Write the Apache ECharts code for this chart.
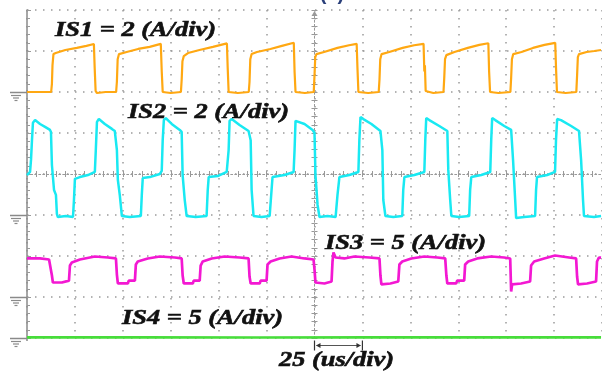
<!DOCTYPE html>
<html>
<head>
<meta charset="utf-8">
<script src="https://cdn.jsdelivr.net/npm/echarts@6/dist/echarts.min.js"></script>
<style>
html,body{margin:0;padding:0;background:#fff;}
#chart{width:602px;height:374px;}
</style>
</head>
<body>
<div id="chart"></div>
<script>
// ---- Channel settings ----
const channelNames = ['IS1', 'IS2', 'IS3', 'IS4'];
const ampsPerDiv = [2, 2, 5, 5];
const groundDiv = [6, 3, 1, 0];
const channelLabels = ['IS1 = 2 (A/div)', 'IS2 = 2 (A/div)', 'IS3 = 5 (A/div)', 'IS4 = 5 (A/div)'];
const timeLabel = '25 (us/div)';
const usPerDiv = 25;
const arrowSpan = [150, 175];

// ---- Waveforms: [time (us), current (A)] ----
const is1Points = [
 [0,0],[12.6,0],[13.0,0.4],[13.3,1.3],[13.8,1.85],[15,1.9],[20,2.05],[26,2.15],[31,2.25],[34.9,2.34],[35.3,1.2],[35.8,0.05],[36.5,-0.05],[41,0],[46.5,0],
 [46.9,0.5],[47.3,1.6],[48,1.85],[52,1.95],[58,2.1],[64,2.2],[69.8,2.35],[70.3,1.0],[70.8,0.0],[75,-0.05],[80.3,0],
 [80.7,0.6],[81.1,1.5],[81.8,1.75],[84,1.9],[90,2.05],[97,2.2],[104.3,2.37],[104.7,1.2],[105.2,0],[110,-0.05],[115.7,0],
 [116.1,0.5],[116.5,1.6],[117.2,1.85],[120,1.95],[127,2.1],[133,2.25],[139.2,2.4],[139.6,1.0],[140.1,0],[145,-0.05],[149.6,0],
 [150.0,0.8],[150.4,1.7],[151,1.85],[155,1.95],[162,2.15],[168,2.28],[172.0,2.35],[172.4,1.2],[172.9,0],[178,-0.05],[183.5,0],
 [183.9,0.6],[184.3,1.6],[185,1.85],[189,1.95],[196,2.15],[202,2.28],[206.9,2.35],[207.3,1.0],[207.6,1.3],[208,0.05],[212,-0.05],[217.3,0],
 [217.7,0.7],[218.1,1.6],[218.8,1.8],[223,1.95],[230,2.15],[236,2.3],[240.7,2.38],[241.1,1.0],[241.6,0],[246,-0.05],[252.2,0],
 [252.6,0.7],[253,1.6],[253.7,1.85],[258,1.95],[264,2.15],[270,2.3],[275.6,2.4],[276.0,1.2],[276.5,0],[281,-0.05],[286.6,0],
 [287.0,0.8],[287.4,1.7],[288,1.85],[292,1.95],[296,2.0],[299.5,2.05]
];

const is2Points = [
 [0,1.95],[1.6,2.1],[2.1,2.7],[2.6,3.65],[3.1,4.5],[4.2,4.63],[6.8,4.44],[9.4,4.3],[12.0,4.15],[12.5,4.05],[13.0,2.44],[14.1,1.22],[15.1,0.98],[15.6,0.05],[16.1,-0.1],[20.3,-0.05],[24.0,-0.1],[24.5,0.73],[25.0,1.76],[27.6,1.85],[31.8,1.95],[35.4,2.1],
 [35.9,3.17],[36.5,4.54],[37.5,4.68],[40.6,4.44],[44.3,4.2],[45.8,4.1],[46.9,3.17],[47.4,1.71],[48.4,0.98],[49.5,-0.05],[53.6,-0.1],[59.4,-0.05],[59.9,0.98],[60.4,1.8],[64.1,1.85],[69.3,2.0],[70.3,2.15],
 [70.8,3.65],[71.4,4.63],[72.4,4.73],[75.5,4.44],[79.7,4.15],[80.7,4.05],[81.2,1.95],[82.3,0.73],[83.3,-0.05],[88.0,-0.1],[93.7,-0.05],[94.3,1.22],[94.8,1.85],[99.5,1.9],[104.2,2.1],
 [105.2,3.17],[105.7,4.59],[106.8,4.68],[110.9,4.39],[115.6,4.1],[116.7,3.65],[117.2,1.22],[118.2,-0.05],[122.4,-0.1],[126.6,-0.05],[127.6,1.22],[128.1,1.85],[134.4,1.95],[139.1,2.1],
 [139.6,3.17],[140.1,4.59],[141.1,4.68],[144.8,4.44],[149.0,4.15],[150.0,4.0],[150.5,1.95],[151.6,0.49],[152.6,-0.1],[156.8,-0.05],[161.0,-0.1],[162.0,0.98],[163.0,1.85],[168.2,1.95],[172.9,2.1],
 [173.4,3.65],[174.0,4.78],[175.5,4.68],[179.7,4.44],[184.4,4.1],[185.4,3.17],[185.9,0.73],[187.0,-0.05],[191.1,-0.1],[195.8,-0.05],[196.3,1.22],[196.9,1.85],[202.1,1.95],[207.3,2.1],
 [207.8,3.65],[208.3,4.73],[209.9,4.63],[215.1,4.34],[219.3,4.1],[219.8,2.2],[220.8,0.73],[221.4,-0.05],[225.5,-0.1],[230.7,-0.05],[231.2,1.22],[231.8,1.85],[237.0,1.95],[241.7,2.1],
 [242.2,3.65],[242.7,4.73],[244.3,4.63],[249.0,4.34],[252.6,4.15],[253.6,2.68],[254.7,0.73],[255.2,-0.15],[259.4,-0.1],[265.1,-0.05],[265.6,1.22],[266.1,1.85],[271.4,1.95],[275.5,2.1],
 [276.0,3.65],[276.6,4.68],[278.6,4.63],[283.9,4.34],[288.0,4.1],[289.1,2.68],[290.1,0.73],[290.6,-0.05],[295.8,-0.1],[299.5,-0.05]
];

const is3Points = [
 [0,4.7],[6.8,4.7],[11.5,4.57],[12.5,4.33],[13.0,2.62],[13.5,1.77],[18.2,1.77],[18.8,2.0],[21.9,2.0],[22.4,3.84],[23.4,4.21],[27.6,4.57],[35.4,4.94],[42.2,4.82],[46.4,4.7],
 [46.9,2.74],[47.4,1.65],[52.6,1.65],[53.1,2.0],[56.3,2.0],[56.8,3.97],[57.8,4.33],[63.0,4.7],[69.3,4.94],[77.1,4.82],[80.7,4.7],
 [81.2,2.62],[81.8,1.65],[86.5,1.65],[87.0,2.0],[90.1,2.0],[90.6,3.84],[91.7,4.33],[96.4,4.7],[103.1,4.94],[110.9,4.82],[115.6,4.7],
 [116.1,2.5],[116.7,1.65],[121.4,1.65],[121.9,2.0],[125.0,2.0],[125.5,3.97],[127.1,4.33],[131.8,4.7],[138.0,4.94],[144.8,4.7],[149.5,4.57],
 [150.0,3.36],[150.5,1.77],[155.2,1.65],[155.7,1.89],[158.9,1.89],[159.4,4.33],[159.9,5.43],[161.0,4.82],[165.6,4.7],[170.8,4.94],[178.6,4.82],[183.9,4.7],
 [184.4,2.62],[184.9,1.53],[189.6,1.65],[190.1,1.89],[193.7,1.89],[194.3,3.97],[195.8,4.33],[200.5,4.7],[207.3,4.94],[214.1,4.82],[218.2,4.7],
 [218.8,2.62],[219.3,1.65],[223.9,1.65],[224.5,2.0],[228.1,2.0],[228.6,3.97],[230.2,4.33],[234.9,4.7],[242.2,4.94],[248.9,4.82],[252.1,4.7],
 [252.6,0.67],[253.1,1.53],[257.8,1.65],[258.3,1.89],[262.5,1.89],[263.0,3.84],[264.6,4.33],[269.8,4.7],[275.5,5.06],[282.8,4.82],[286.5,4.7],
 [287.0,2.5],[287.5,1.53],[292.2,1.65],[292.7,1.89],[296.9,1.89],[297.4,4.33],[298.4,4.82],[299.5,4.8]
];

const is4Points = [
 [0,0.08],[60,0.08],[120,0.07],[180,0.08],[240,0.08],[299.5,0.08]
];

const channelPoints = [is1Points, is2Points, is3Points, is4Points];
const channelColors = ['#FFA812', '#19E9F2', '#F318D2', '#47DD3A'];
const channelWidths = [2.2, 2.5, 2.7, 2.6];

const chart = echarts.init(document.getElementById('chart'), null, {renderer: 'canvas'});

const gridBox = {left: 27, top: 10, right: -1, bottom: 36};
const dot = [1.5, 6.5];

const series = channelPoints.map((pts, i) => ({
  name: channelNames[i],
  type: 'line',
  xAxisIndex: 0, yAxisIndex: 0,
  showSymbol: false,
  animation: false,
  clip: true,
  lineStyle: {color: channelColors[i], width: channelWidths[i]},
  data: pts.map(([t, a]) => [t, groundDiv[i] + a / ampsPerDiv[i]]),
  z: 10 - i
}));

const crossAxis = {
  axisLine: {onZero: true, lineStyle: {color: '#999', width: 1, type: [1.5, 2.5]}},
  axisTick: {show: true, inside: true, length: 3, lineStyle: {color: '#999'}},
  minorTick: {show: true, splitNumber: 5, length: 3, lineStyle: {color: '#999'}},
  axisLabel: {show: false},
  splitLine: {show: false}
};

chart.setOption({
  animation: false,
  backgroundColor: '#fff',
  grid: [Object.assign({}, gridBox), Object.assign({}, gridBox)],
  xAxis: [
    {gridIndex: 0, type: 'value', min: 0, max: 12 * usPerDiv, interval: usPerDiv,
     axisLine: {show: false}, axisTick: {show: false}, axisLabel: {show: false},
     splitLine: {show: true, lineStyle: {color: '#9a9a9a', width: 1.5, type: dot}}},
    Object.assign({gridIndex: 1, type: 'value', min: -6 * usPerDiv, max: 6 * usPerDiv, interval: usPerDiv, position: 'bottom'}, crossAxis),
    Object.assign({gridIndex: 1, type: 'value', min: -6 * usPerDiv, max: 6 * usPerDiv, interval: usPerDiv, position: 'top'}, crossAxis)
  ],
  yAxis: [
    {gridIndex: 0, type: 'value', min: 0, max: 8, interval: 1,
     axisLine: {show: true, lineStyle: {color: '#8a8a8a', width: 1.5}},
     axisTick: {show: true, inside: true, length: 4, lineStyle: {color: '#999'}},
     minorTick: {show: true, splitNumber: 5, length: 3, lineStyle: {color: '#999'}},
     axisLabel: {show: false},
     splitLine: {show: true, lineStyle: {color: '#9a9a9a', width: 1.5, type: dot}}},
    Object.assign({gridIndex: 1, type: 'value', min: -4, max: 4, interval: 1, position: 'left'}, crossAxis),
    Object.assign({gridIndex: 1, type: 'value', min: -4, max: 4, interval: 1, position: 'right'}, crossAxis)
  ],
  series: series
});

// ---- Annotations placed through the axes ----
const px = (t, d) => chart.convertToPixel({xAxisIndex: 0, yAxisIndex: 0}, [t, d]);
const graphics = [];
const x0 = px(0, 0)[0];

// ground markers on the left border
groundDiv.forEach((g) => {
  const y = Math.round(px(0, g)[1]) + 0.5;
  const gc = '#8a8a8a';
  graphics.push({type: 'line', shape: {x1: x0 - 17, y1: y, x2: x0, y2: y}, style: {stroke: gc, lineWidth: 1.5}, z: 20});
  graphics.push({type: 'line', shape: {x1: x0 - 16, y1: y + 3, x2: x0 - 6, y2: y + 3}, style: {stroke: gc, lineWidth: 1.2}, z: 20});
  graphics.push({type: 'line', shape: {x1: x0 - 14, y1: y + 5.5, x2: x0 - 8, y2: y + 5.5}, style: {stroke: gc, lineWidth: 1.2}, z: 20});
  graphics.push({type: 'line', shape: {x1: x0 - 12.5, y1: y + 8, x2: x0 - 9.5, y2: y + 8}, style: {stroke: gc, lineWidth: 1.2}, z: 20});
});

// left border extension below plot
graphics.push({type: 'line', shape: {x1: x0, y1: px(0, 0)[1], x2: x0, y2: px(0, 0)[1] + 3}, style: {stroke: '#8a8a8a', lineWidth: 1.5}});

// time-per-division arrow
const a0 = px(arrowSpan[0], 0), a1 = px(arrowSpan[1], 0);
const ay = a0[1] + 7.5;
graphics.push({type: 'line', shape: {x1: a0[0], y1: ay - 5, x2: a0[0], y2: ay + 5}, style: {stroke: '#333', lineWidth: 1.2}});
graphics.push({type: 'line', shape: {x1: a1[0], y1: ay - 5, x2: a1[0], y2: ay + 5}, style: {stroke: '#333', lineWidth: 1.2}});
graphics.push({type: 'line', shape: {x1: a0[0] + 2, y1: ay, x2: a1[0] - 2, y2: ay}, style: {stroke: '#555', lineWidth: 1}});
graphics.push({type: 'polygon', shape: {points: [[a0[0] + 1.5, ay], [a0[0] + 6, ay - 2.5], [a0[0] + 6, ay + 2.5]]}, style: {fill: '#333'}});
graphics.push({type: 'polygon', shape: {points: [[a1[0] - 1.5, ay], [a1[0] - 6, ay - 2.5], [a1[0] - 6, ay + 2.5]]}, style: {fill: '#333'}});

// trigger marker at top centre
const tc = px(6 * usPerDiv, 8);
graphics.push({type: 'polygon', shape: {points: [[tc[0], tc[1] + 1], [tc[0] - 3, tc[1] + 6], [tc[0] + 3, tc[1] + 6]]}, style: {fill: '#999'}});

// channel labels
const labelPos = [[55, 30], [128, 112], [325, 243], [122, 318]];
const textFont = 'bold italic 22px "Liberation Serif", "DejaVu Serif", serif';
channelLabels.forEach((txt, i) => {
  graphics.push({type: 'text', x: labelPos[i][0], y: labelPos[i][1], scaleX: 1.2, z: 30,
    style: {text: txt, x: 0, y: 0, font: textFont, fill: '#111', stroke: '#111', lineWidth: 0.6, textVerticalAlign: 'middle', textAlign: 'left'}});
});
graphics.push({type: 'text', x: 279, y: 360, scaleX: 1.2, z: 30,
  style: {text: timeLabel, x: 0, y: 0, font: textFont, fill: '#111', stroke: '#111', lineWidth: 0.6, textVerticalAlign: 'middle', textAlign: 'left'}});

// panel tag, cut off at the top edge
graphics.push({type: 'text', x: 332, y: 4, z: 30,
  style: {text: '(c)', x: 0, y: 0, font: 'bold 20px "Liberation Sans", sans-serif', fill: '#2a3f7a', textVerticalAlign: 'bottom', textAlign: 'center'}});

chart.setOption({graphic: graphics});
</script>
</body>
</html>
